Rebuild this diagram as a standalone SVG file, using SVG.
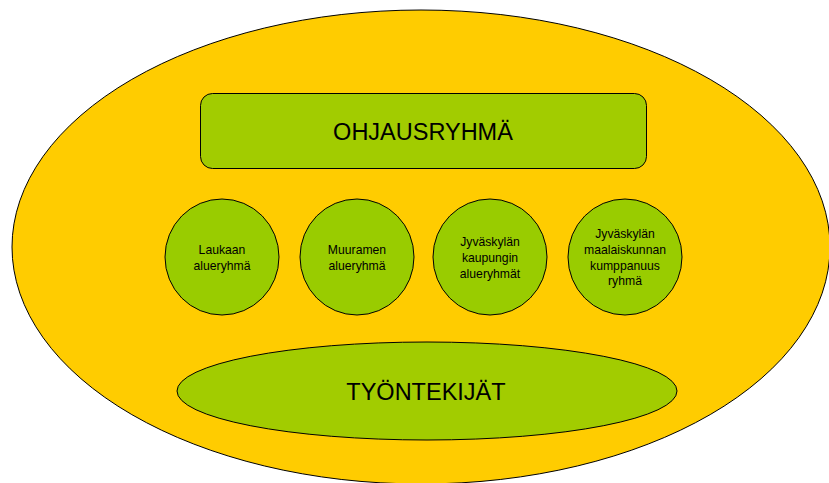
<svg xmlns="http://www.w3.org/2000/svg" width="829" height="483" viewBox="0 0 829 483">
  <style>
    .outer { fill: #ffcc00; stroke: #000; stroke-width: 1; }
    .tex { fill: #a2cc00; stroke: #000; stroke-width: 1; }
    .circ { fill: #99cc00; stroke: #000; stroke-width: 1; }
    .big { font-family: "Liberation Sans", Arial, sans-serif; font-size: 23.5px; fill: #000; text-anchor: middle; }
    .small { font-family: "Liberation Sans", Arial, sans-serif; font-size: 12.2px; fill: #000; text-anchor: middle; }
  </style>
  <rect width="829" height="483" fill="#ffffff"/>
  <g id="outer">
    <ellipse class="outer" cx="421" cy="247" rx="409" ry="237"/>
  </g>
  <g id="connectors"></g>
  <g id="ohjausryhma">
    <rect class="tex" x="200.5" y="93.5" width="446" height="75" rx="12" ry="12"/>
    <text class="big" x="423" y="140">OHJAUSRYHMÄ</text>
  </g>
  <g id="laukaan">
    <ellipse class="circ" cx="222" cy="257" rx="57" ry="58"/>
    <text class="small" x="222" y="254">Laukaan</text>
    <text class="small" x="222" y="270">alueryhmä</text>
  </g>
  <g id="muuramen">
    <ellipse class="circ" cx="357" cy="257" rx="57" ry="58"/>
    <text class="small" x="357" y="254">Muuramen</text>
    <text class="small" x="357" y="270">alueryhmä</text>
  </g>
  <g id="jkl-kaupunki">
    <ellipse class="circ" cx="490" cy="257" rx="57" ry="58"/>
    <text class="small" x="490" y="246">Jyväskylän</text>
    <text class="small" x="490" y="262">kaupungin</text>
    <text class="small" x="490" y="278">alueryhmät</text>
  </g>
  <g id="jkl-maalaiskunta">
    <ellipse class="circ" cx="625" cy="257" rx="57" ry="58"/>
    <text class="small" x="625" y="238">Jyväskylän</text>
    <text class="small" x="625" y="254">maalaiskunnan</text>
    <text class="small" x="625" y="270">kumppanuus</text>
    <text class="small" x="625" y="285">ryhmä</text>
  </g>
  <g id="tyontekijat">
    <ellipse class="tex" cx="427" cy="391" rx="250" ry="49"/>
    <text class="big" x="426" y="400">TYÖNTEKIJÄT</text>
  </g>
</svg>
